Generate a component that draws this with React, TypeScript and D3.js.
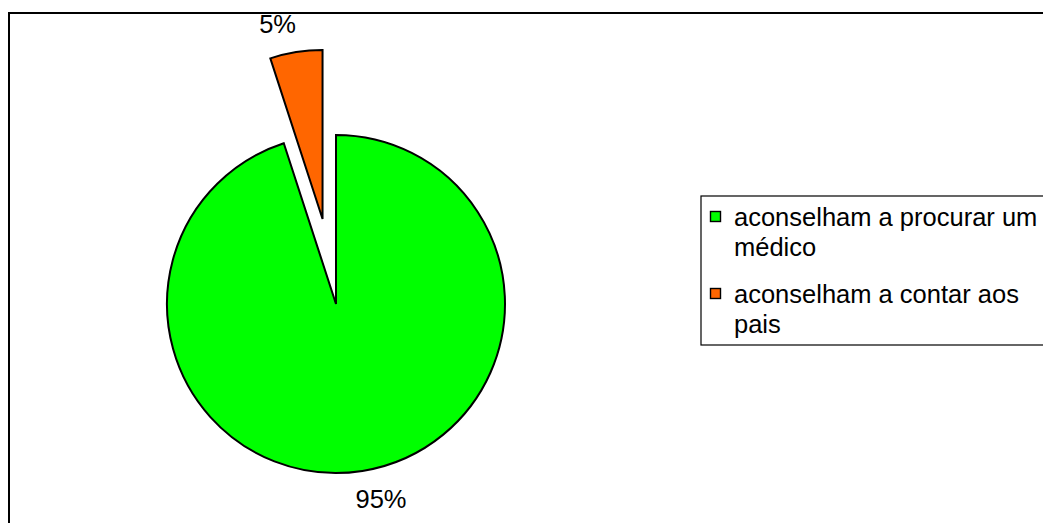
import React from "react";
import * as d3 from "d3";

const categories = ["aconselham a procurar um médico", "aconselham a contar aos pais"];
const legendLines = [["aconselham a procurar um", "médico"], ["aconselham a contar aos", "pais"]];
const values = [95, 5];
const labels = ["95%", "5%"];
const colors = ["#00FF00", "#FF6600"];
const explode = [0, 86];

const W = 1043;
const H = 523;
const cx = 336;
const cy = 304;
const R = 169;
const labelR = 200;
const labelAngleShift = (-4 * Math.PI) / 180;
const FONT = "'Liberation Sans', Arial, sans-serif";
const FS = 25.5;

export default function App() {
  const pie = d3.pie<number>().sort(null).value((d) => d)(values);
  const arc = d3.arc<d3.PieArcDatum<number>>().innerRadius(0).outerRadius(R);

  return (
    <svg
      width={W}
      height={H}
      style={{ position: "fixed", left: 0, top: 0, background: "#fff" }}
      fontFamily={FONT}
    >
      <rect x={9} y={13} width={W + 20} height={H + 20} fill="#fff" stroke="#000" strokeWidth={2} />
      {pie.map((p, i) => {
        const mid = (p.startAngle + p.endAngle) / 2;
        const ox = Math.sin(mid) * explode[i];
        const oy = -Math.cos(mid) * explode[i];
        const la = mid + labelAngleShift;
        const lx = ox + Math.sin(la) * labelR;
        const ly = oy - Math.cos(la) * labelR;
        return (
          <g key={i} transform={`translate(${cx},${cy})`}>
            <path
              d={arc(p) || ""}
              transform={`translate(${ox},${oy})`}
              fill={colors[i]}
              stroke="#000"
              strokeWidth={2}
              strokeLinejoin="miter"
            />
            <text x={lx} y={ly} textAnchor="middle" dominantBaseline="central" fontSize={FS} fill="#000">
              {labels[i]}
            </text>
          </g>
        );
      })}
      <rect x={701} y={196} width={W} height={149} fill="#fff" stroke="#000" strokeWidth={1.2} />
      {categories.map((c, i) => {
        const y0 = 226 + i * 77;
        return (
          <g key={c}>
            <rect x={710.5} y={y0 - 14.5} width={10} height={10} fill={colors[i]} stroke="#000" strokeWidth={1.4} />
            {legendLines[i].map((line, j) => (
              <text key={j} x={734} y={y0 + j * 30} fontSize={FS} fill="#000">
                {line}
              </text>
            ))}
          </g>
        );
      })}
    </svg>
  );
}
